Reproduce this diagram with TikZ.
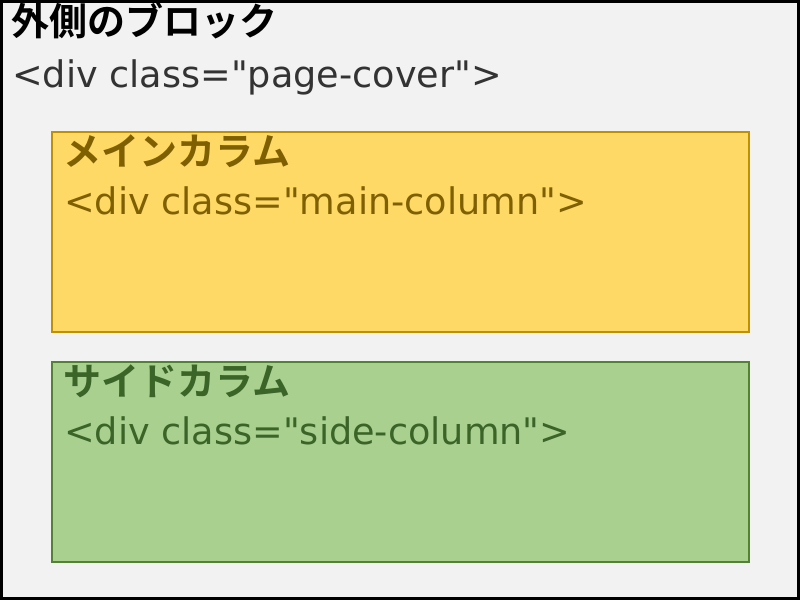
\documentclass[tikz,border=0pt]{standalone}
\usepackage{fontspec}
\newfontfamily\codefont{DejaVu Sans}
\newfontfamily\jpbold{Noto Sans CJK JP Bold}
\usetikzlibrary{positioning}

\definecolor{coverfill}{HTML}{F2F2F2}
\definecolor{mainfill}{HTML}{FFD966}
\definecolor{mainline}{HTML}{BF9000}
\definecolor{maintext}{HTML}{7F6000}
\definecolor{sidefill}{HTML}{A9D08E}
\definecolor{sideline}{HTML}{548235}
\definecolor{sidetext}{HTML}{3B6428}
\definecolor{covertext}{HTML}{333333}

\begin{document}
\begin{tikzpicture}[x=1pt, y=1pt,
		column/.style = {draw, line width=2pt, minimum width=697pt, minimum height=200pt, anchor=north west, inner sep=0pt},
		head/.style = {anchor=base west, inner sep=0pt, font=\fontsize{38}{42}\selectfont\jpbold},
		code/.style = {anchor=base west, inner sep=0pt, font=\fontsize{36.6}{40}\selectfont\codefont}]
		\useasboundingbox (0,0) rectangle (800,-600);
		% outer block
		\node[draw=black, line width=3pt, fill=coverfill, minimum width=797pt, minimum height=597pt, inner sep=0pt] (cover) at (400,-300) {};
		\node[head] (covertitle) at (11,-35) {外側のブロック};
		\node[code, text=covertext] (covercode) at (12,-87) {<div class="page-cover">};
		% columns
		\node[column, draw=mainline, fill=mainfill] (main) at (51,-131) {};
		\node[column, draw=sideline, fill=sidefill] (side) at (51,-361) {};
		\node[head, text=maintext] (maintitle) at ([xshift=12pt, yshift=-34pt]main.north west) {メインカラム};
		\node[code, text=maintext] (maincode) at ([xshift=13pt, yshift=-83pt]main.north west) {<div class="main-column">};
		\node[head, text=sidetext] (sidetitle) at ([xshift=12pt, yshift=-34pt]side.north west) {サイドカラム};
		\node[code, text=sidetext] (sidecode) at ([xshift=13pt, yshift=-83pt]side.north west) {<div class="side-column">};
	\end{tikzpicture}
\end{document}
